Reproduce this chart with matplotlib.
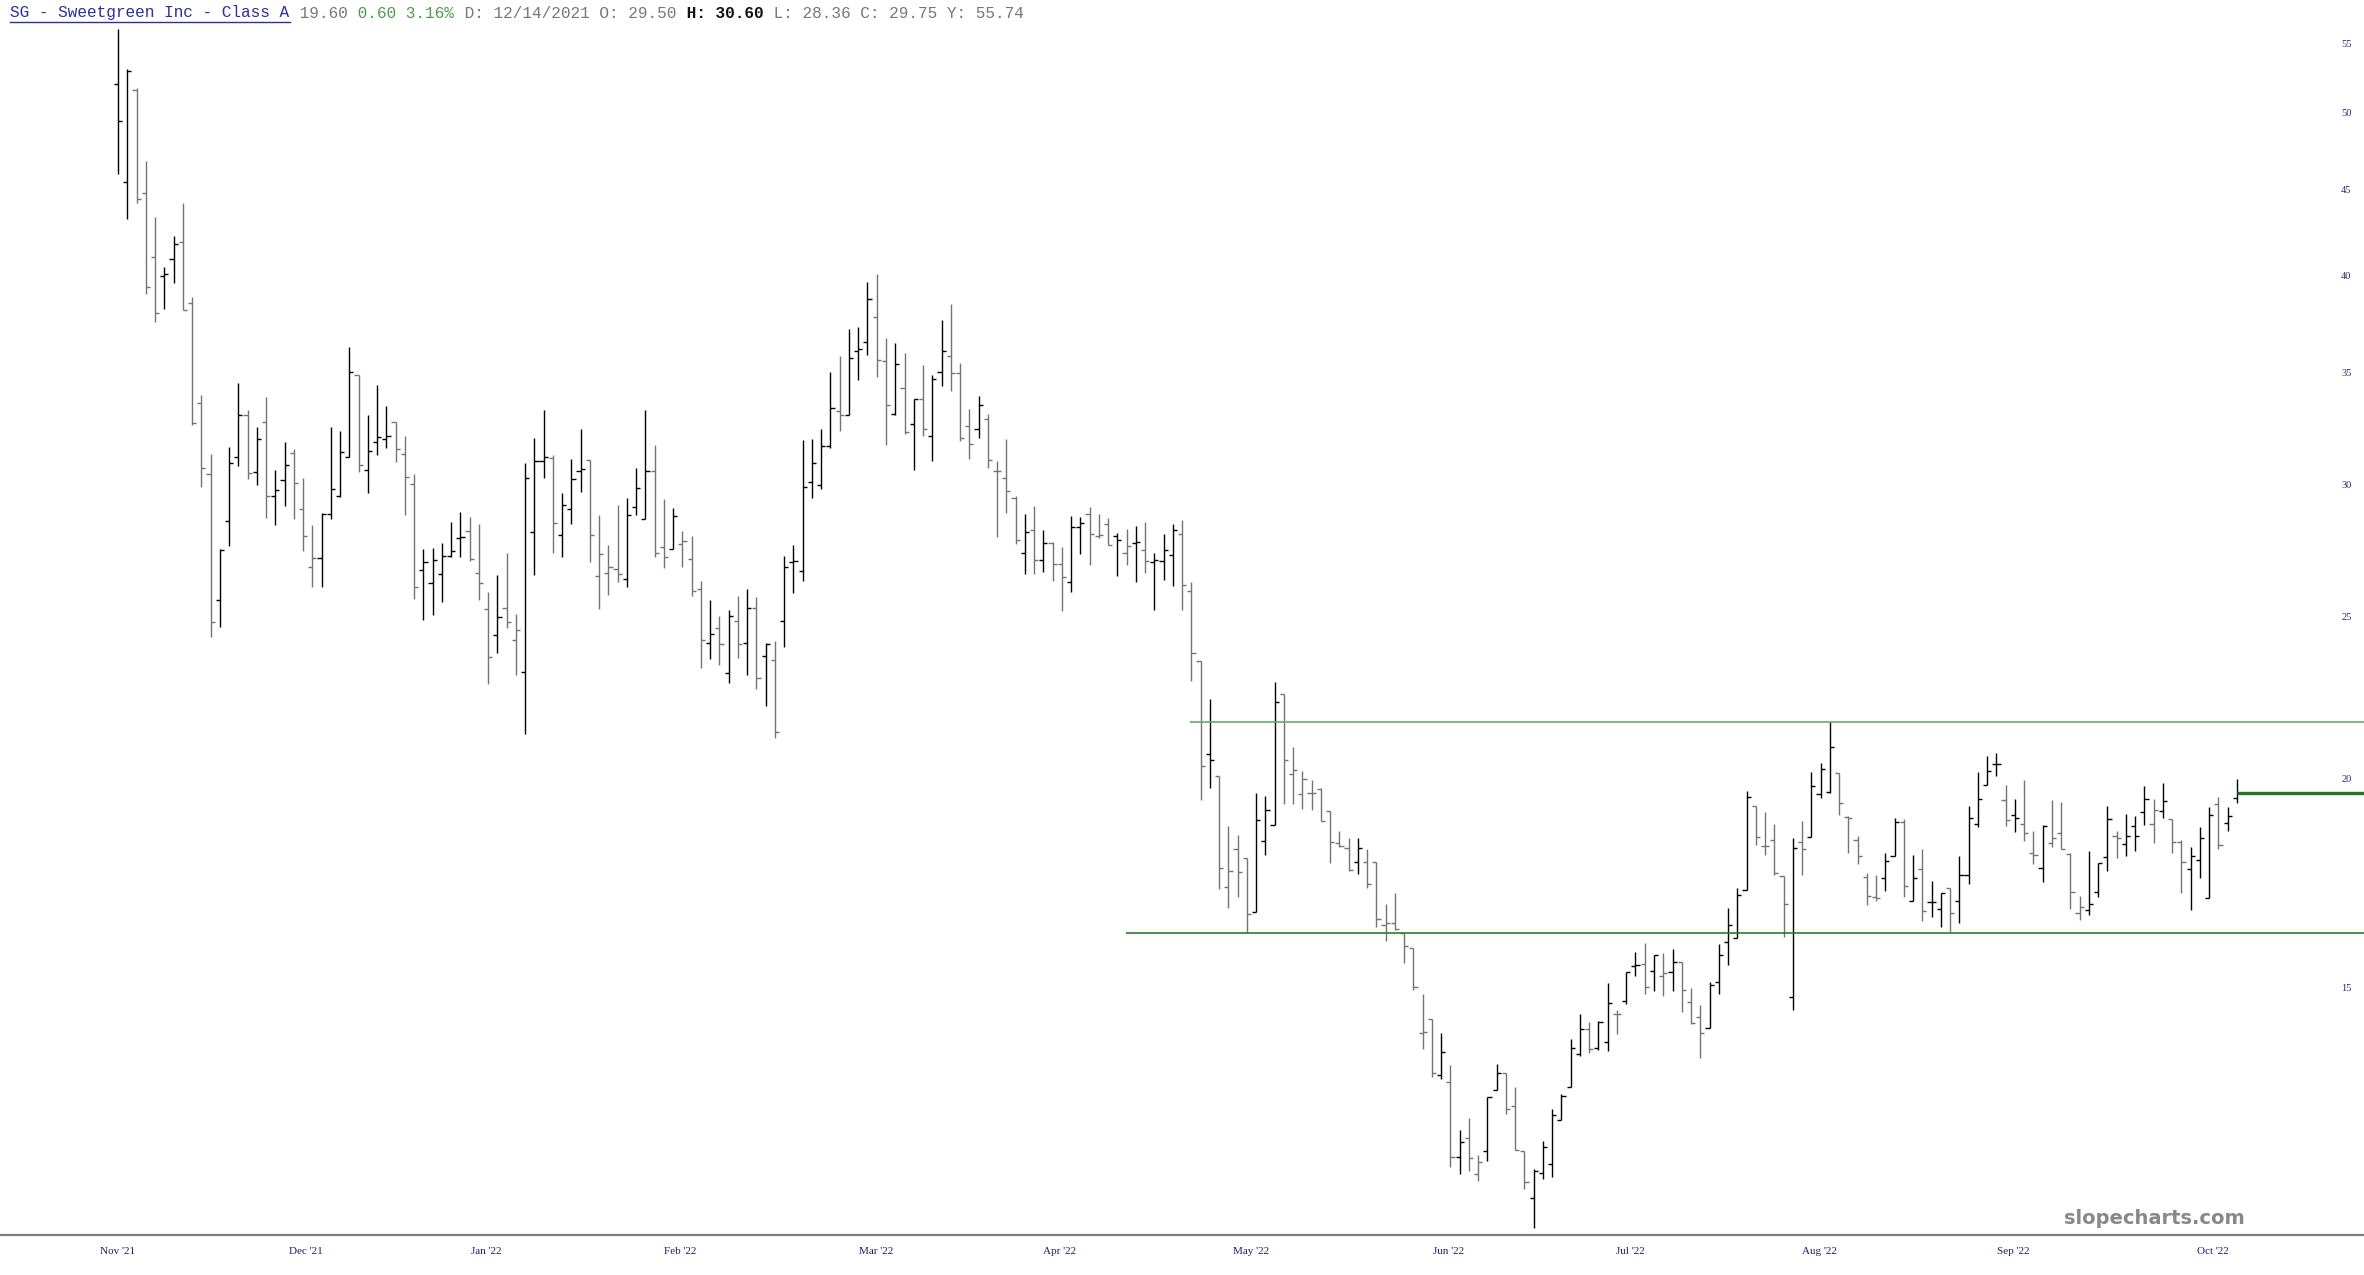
import numpy as np
import matplotlib
matplotlib.use("Agg")
import matplotlib.pyplot as plt
from matplotlib.lines import Line2D
from matplotlib.ticker import NullLocator

# daily OHLC for SG, first bar = IPO day
opens = [52.02, 45.46, 51.57, 44.81, 40.98, 39.95, 40.89, 41.85, 38.50, 33.52,
         30.40, 25.59, 28.51, 31.15, 32.99, 30.49, 32.67, 29.50, 30.15, 31.33,
         28.98, 26.77, 27.09, 28.79, 29.50, 31.15, 34.86, 30.57, 31.77, 31.90,
         32.67, 31.27, 30.00, 26.66, 26.17, 26.51, 27.18, 27.84, 28.11, 26.54,
         25.27, 24.37, 25.28, 24.21, 23.17, 28.10, 30.97, 31.08, 27.95, 28.97,
         30.54, 30.99, 26.43, 26.55, 26.67, 26.34, 29.07, 28.60, 30.53, 27.51,
         27.45, 27.63, 27.07, 25.95, 24.11, 24.61, 23.14, 24.84, 24.09, 25.29,
         23.66, 23.54, 24.85, 26.94, 26.63, 30.10, 29.97, 31.62, 33.19, 33.00,
         36.05, 36.47, 37.78, 35.56, 33.04, 34.23, 32.57, 33.71, 32.03, 34.98,
         35.79, 34.95, 32.48, 32.38, 32.82, 30.55, 30.23, 29.44, 27.27, 28.16,
         27.02, 27.67, 26.89, 26.22, 28.29, 28.80, 27.94, 28.38, 27.94, 27.29,
         27.67, 27.41, 26.95, 26.98, 27.22, 28.01, 25.90, 23.51, 20.68, 20.08,
         17.23, 18.15, 17.92, 16.65, 18.35, 18.75, 22.46, 20.12, 19.59, 19.62,
         19.72, 19.12, 18.31, 18.17, 17.82, 17.82, 17.82, 16.35, 16.40, 16.17,
         15.83, 14.10, 14.36, 13.29, 13.18, 11.88, 12.20, 11.60, 11.98, 13.02,
         13.33, 12.75, 11.98, 11.23, 11.62, 11.77, 12.50, 13.09, 13.68, 14.16,
         13.81, 13.92, 14.47, 14.73, 15.46, 15.50, 15.35, 15.24, 15.32, 15.54,
         14.71, 14.40, 14.18, 15.12, 15.98, 16.07, 17.16, 19.25, 18.23, 18.39,
         17.50, 14.81, 18.34, 18.45, 19.58, 19.63, 20.16, 18.97, 18.38, 17.46,
         16.99, 17.44, 17.99, 18.83, 16.89, 17.66, 16.88, 16.71, 17.21, 16.90,
         17.52, 18.79, 19.83, 20.41, 19.42, 19.03, 18.79, 18.06, 17.68, 18.31,
         18.56, 18.03, 16.62, 16.69, 17.10, 17.95, 18.48, 18.28, 18.74, 19.10,
         18.79, 19.14, 18.92, 18.33, 17.66, 17.87, 16.97, 19.32, 18.82, 19.48]
highs = [56.14, 53.13, 51.72, 46.80, 43.30, 40.47, 42.20, 44.19, 38.83, 33.89,
         31.27, 27.42, 31.56, 34.47, 33.24, 32.45, 33.80, 30.60, 31.77, 31.47,
         30.25, 28.37, 28.84, 32.45, 32.27, 36.25, 34.86, 32.99, 34.37, 33.39,
         32.67, 32.06, 30.42, 27.42, 27.48, 27.66, 28.48, 28.87, 28.67, 28.40,
         25.86, 26.46, 27.30, 25.08, 30.90, 31.95, 33.21, 31.23, 29.65, 31.05,
         32.35, 30.99, 28.74, 27.59, 29.15, 29.41, 30.65, 33.21, 31.64, 29.37,
         29.02, 28.12, 27.92, 26.24, 25.57, 25.02, 25.22, 25.71, 25.95, 25.67,
         24.09, 24.16, 27.16, 27.59, 31.87, 31.91, 32.35, 35.00, 35.76, 37.13,
         37.22, 39.64, 40.06, 36.66, 36.41, 35.92, 33.71, 35.35, 34.87, 37.59,
         38.43, 35.43, 33.28, 33.87, 33.04, 30.97, 31.91, 29.49, 28.79, 29.12,
         28.16, 27.71, 27.49, 28.72, 28.66, 29.06, 28.79, 28.63, 28.06, 28.20,
         28.32, 28.47, 27.29, 28.01, 28.38, 28.55, 26.20, 23.51, 22.30, 20.08,
         18.74, 18.50, 17.92, 19.62, 19.52, 22.84, 22.46, 20.90, 20.20, 19.96,
         19.75, 19.12, 18.62, 18.43, 18.43, 18.15, 17.82, 16.84, 17.09, 16.17,
         15.83, 14.86, 14.36, 14.10, 13.49, 12.33, 12.53, 11.92, 12.91, 13.51,
         13.33, 13.08, 11.98, 11.68, 12.15, 12.69, 12.95, 13.98, 14.46, 14.31,
         14.33, 15.10, 14.54, 15.33, 15.75, 15.95, 15.69, 15.73, 15.81, 15.54,
         15.00, 14.65, 15.12, 15.93, 16.74, 17.21, 19.65, 19.27, 19.09, 18.78,
         17.50, 18.43, 18.87, 20.18, 20.43, 21.62, 20.16, 18.99, 18.47, 17.56,
         17.52, 18.05, 18.95, 18.91, 18.00, 18.14, 17.36, 17.09, 17.21, 17.98,
         19.26, 20.19, 20.64, 20.72, 19.83, 19.44, 19.95, 18.61, 18.75, 19.42,
         19.36, 18.05, 17.02, 18.11, 17.80, 19.26, 18.61, 19.06, 18.99, 19.81,
         19.45, 19.88, 18.92, 18.38, 18.21, 18.70, 19.22, 19.51, 19.22, 20.00]
lows = [45.96, 43.20, 44.14, 38.96, 37.50, 38.17, 39.56, 38.13, 32.54, 29.87,
        24.29, 24.63, 27.56, 30.74, 30.20, 29.98, 28.63, 28.36, 29.12, 28.60,
        27.37, 26.02, 26.05, 28.60, 29.48, 31.12, 30.49, 29.62, 31.24, 31.54,
        30.92, 28.74, 25.62, 24.88, 25.05, 25.52, 27.13, 27.13, 26.98, 25.56,
        22.78, 23.78, 24.60, 23.07, 21.28, 26.46, 30.26, 27.29, 27.12, 28.39,
        29.66, 26.96, 25.27, 25.74, 26.23, 26.02, 28.76, 28.60, 27.13, 26.71,
        27.45, 26.77, 25.71, 23.29, 23.57, 23.37, 22.80, 23.60, 23.06, 22.63,
        22.09, 21.15, 23.97, 25.81, 26.24, 29.43, 29.78, 31.52, 32.25, 32.99,
        34.60, 35.85, 34.76, 31.65, 32.99, 32.16, 30.57, 32.06, 30.95, 34.33,
        34.09, 31.82, 31.05, 31.97, 30.67, 27.89, 28.83, 27.61, 26.50, 26.50,
        26.59, 26.24, 25.19, 25.85, 27.24, 26.84, 27.87, 27.58, 26.45, 26.82,
        26.22, 26.56, 25.24, 26.30, 26.07, 25.21, 22.86, 19.43, 19.75, 17.17,
        16.73, 17.00, 16.17, 16.65, 18.01, 18.75, 19.31, 19.31, 19.17, 19.15,
        18.87, 17.80, 18.20, 17.62, 17.53, 17.20, 16.30, 15.99, 16.24, 15.52,
        14.94, 13.79, 13.27, 13.22, 11.71, 11.60, 11.66, 11.50, 11.81, 13.02,
        12.61, 11.99, 11.36, 10.77, 11.53, 11.56, 12.50, 13.09, 13.65, 13.71,
        13.77, 13.75, 14.08, 14.66, 15.25, 14.87, 14.92, 14.82, 14.92, 14.50,
        14.26, 13.62, 14.18, 14.87, 15.48, 16.07, 17.16, 18.26, 18.01, 17.52,
        16.08, 14.54, 17.52, 18.45, 19.48, 19.61, 19.01, 18.05, 17.79, 16.81,
        16.89, 17.14, 17.98, 16.98, 16.89, 16.45, 16.54, 16.31, 16.20, 16.39,
        17.29, 18.72, 19.83, 20.06, 18.74, 18.57, 18.35, 17.78, 17.35, 18.21,
        18.14, 16.72, 16.47, 16.58, 16.98, 17.62, 17.92, 17.98, 18.11, 18.75,
        18.30, 18.94, 18.05, 17.09, 16.68, 17.43, 16.97, 18.14, 18.61, 19.34]
closes = [49.48, 52.99, 44.39, 39.34, 37.96, 40.05, 41.73, 38.13, 32.62, 30.65,
          24.81, 27.40, 30.88, 32.99, 30.45, 31.91, 29.50, 29.75, 30.80, 30.04,
          27.92, 27.09, 28.79, 29.79, 31.36, 35.02, 30.80, 31.38, 32.00, 32.05,
          31.47, 30.28, 26.02, 26.95, 27.02, 27.18, 27.37, 27.89, 27.05, 26.17,
          23.65, 24.98, 24.80, 24.53, 30.23, 30.97, 31.13, 28.45, 29.16, 30.20,
          30.61, 27.97, 27.23, 26.75, 26.52, 28.76, 29.85, 30.53, 27.30, 27.14,
          28.71, 27.73, 25.89, 24.20, 24.40, 24.06, 25.01, 24.07, 25.29, 22.97,
          24.06, 21.32, 26.75, 26.99, 29.86, 30.88, 31.61, 33.31, 33.00, 35.67,
          36.11, 38.71, 35.59, 33.44, 35.38, 32.21, 33.71, 32.36, 34.68, 36.04,
          34.95, 31.96, 31.72, 33.44, 30.99, 30.56, 29.73, 27.79, 28.08, 27.02,
          27.65, 26.89, 26.40, 28.29, 28.44, 28.00, 27.97, 27.58, 27.77, 27.56,
          27.68, 26.98, 27.03, 27.41, 28.16, 26.12, 23.77, 20.34, 20.52, 17.68,
          17.62, 17.58, 16.59, 18.90, 19.15, 22.22, 20.53, 20.23, 19.99, 19.62,
          18.87, 18.32, 18.22, 17.64, 18.18, 17.29, 16.49, 16.40, 16.26, 15.88,
          15.01, 14.11, 13.34, 13.72, 11.88, 12.12, 11.86, 11.80, 12.91, 13.33,
          12.69, 11.99, 11.47, 11.65, 12.05, 12.59, 12.92, 13.81, 14.16, 13.78,
          14.31, 14.68, 14.47, 15.33, 15.48, 15.01, 15.68, 15.31, 15.54, 14.95,
          14.29, 14.09, 15.05, 15.69, 16.36, 17.03, 19.51, 18.45, 18.23, 17.56,
          16.82, 18.18, 18.16, 19.79, 20.27, 20.89, 19.33, 18.95, 17.97, 17.02,
          16.96, 17.85, 18.83, 17.24, 17.45, 16.66, 16.88, 17.09, 16.63, 17.52,
          18.94, 19.44, 20.20, 20.41, 18.90, 18.94, 18.55, 18.00, 18.74, 18.42,
          18.14, 17.11, 16.77, 16.83, 17.80, 18.91, 18.44, 18.48, 18.48, 19.45,
          19.16, 19.38, 18.33, 17.84, 17.98, 18.44, 19.02, 18.26, 19.00, 19.60]

month_labels = ["Nov '21", "Dec '21", "Jan '22", "Feb '22", "Mar '22", "Apr '22",
                "May '22", "Jun '22", "Jul '22", "Aug '22", "Sep '22", "Oct '22"]
month_pos = [0, 20.3, 39.8, 60.8, 81.9, 101.8, 122.5, 143.8, 163.4, 183.9, 204.8, 226.4]
price_ticks = [15, 20, 25, 30, 35, 40, 45, 50, 55]

# drawn levels: (price, first bar)
resistance = (21.62, 115.9)
support = (16.16, 108.9)

header = [("SG - Sweetgreen Inc - Class A", "#2e2e9e", "normal"),
          (" 19.60", "#777777", "normal"),
          (" 0.60 3.16%", "#4c9a4c", "normal"),
          (" D: 12/14/2021 O: 29.50", "#777777", "normal"),
          (" H: 30.60", "#111111", "bold"),
          (" L: 28.36 C: 29.75 Y: 55.74", "#777777", "normal")]

W, H = 2364, 1275
fig = plt.figure(figsize=(W / 100, H / 100), dpi=100)
ax = fig.add_axes([0, (H - 1235) / H, 1, 1235 / H])

n = len(closes)
x = np.arange(n)
o, h, l, c = map(np.array, (opens, highs, lows, closes))
up = np.concatenate([[True], c[1:] >= c[:-1]])
cols = np.where(up, "#000000", "#747474")

tick = 0.45
ax.vlines(x, l, h, colors=cols, lw=1.0)
ax.hlines(o, x - tick, x, colors=cols, lw=1.0)
ax.hlines(c, x, x + tick, colors=cols, lw=1.0)

xmax = (W - 118) / 9.253
ax.hlines(resistance[0], resistance[1], xmax, colors="#6aa86a", lw=1.2)
ax.hlines(support[0], support[1], xmax, colors="#2e7a2e", lw=1.2)
ax.hlines(c[-1], x[-1], xmax, colors="#1e7a1e", lw=2.4)

ax.set_yscale("log")
ax.set_ylim(10.67, 58.41)
ax.set_xlim(-118 / 9.253, xmax)

ax.set_yticks(price_ticks)
ax.set_yticklabels([str(t) for t in price_ticks])
ax.yaxis.set_minor_locator(NullLocator())
ax.yaxis.tick_right()
ax.tick_params(axis="y", length=0, pad=-16.5, labelsize=7.5, labelcolor="#2a2a70")
for lab in ax.get_yticklabels():
    lab.set_family("Liberation Serif")

ax.set_xticks(month_pos)
ax.set_xticklabels(month_labels)
ax.tick_params(axis="x", length=0, pad=9, labelsize=8, labelcolor="#1e1e6e")
for lab in ax.get_xticklabels():
    lab.set_family("Liberation Serif")

for s in ["top", "left", "right"]:
    ax.spines[s].set_visible(False)
ax.spines["bottom"].set_color("#808080")
ax.spines["bottom"].set_linewidth(1.6)

# header line, monospace so the pieces can be placed by char count
fs = 11.6
cw = fs * 0.6 * 100 / 72
pos = 0
for txt, col, wt in header:
    fig.text((10 + pos * cw) / W, 1 - 13 / H, txt, family="Liberation Mono", fontsize=fs,
             color=col, weight=wt, va="center", ha="left")
    pos += len(txt)
fig.add_artist(Line2D([10 / W, (10 + len(header[0][0]) * cw) / W], [1 - 21.5 / H] * 2,
                      color="#2e2e9e", lw=1.0))

fig.text(2154 / W, 1 - 1218 / H, "slopecharts.com", fontsize=14, weight="bold",
         color="#888888", ha="center", va="center", family="DejaVu Sans")

fig.savefig("out.png", dpi=100)
